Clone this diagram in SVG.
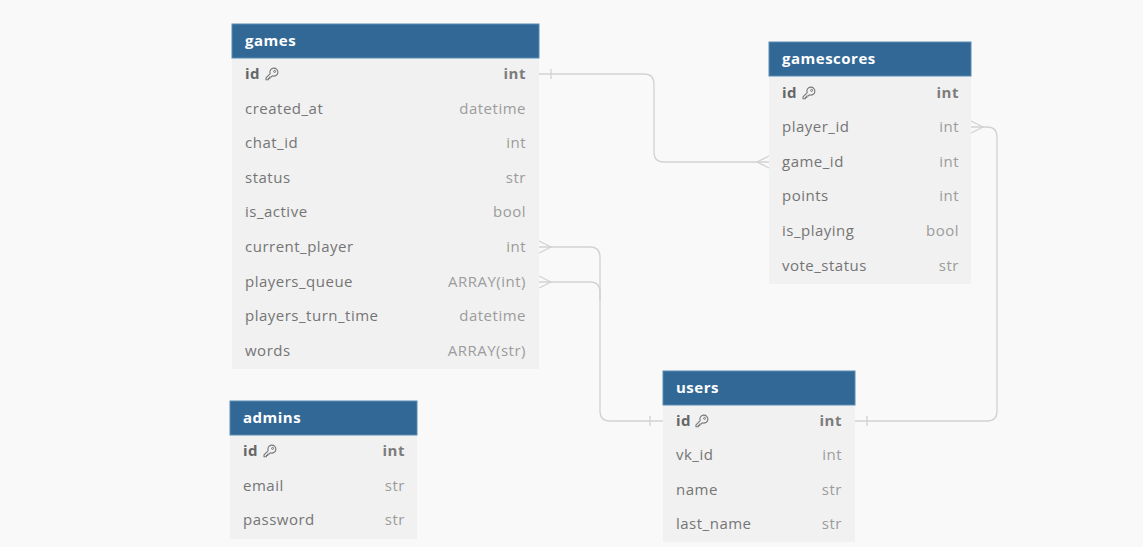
<svg xmlns="http://www.w3.org/2000/svg" width="1143" height="547" viewBox="0 0 1143 547">
<defs>
<style>
.bg{fill:#f9f9f9}
.body{fill:#f1f1f1}
.head{fill:#316896;stroke:#5a8bb3;stroke-width:1}
.title{font-family:"Open Sans","Noto Sans",sans-serif;font-size:15px;letter-spacing:0.5px;font-weight:700;fill:#ffffff}
.n{font-family:"Open Sans","Noto Sans",sans-serif;font-size:15px;letter-spacing:0.5px;fill:#757575}
.t{font-family:"Open Sans","Noto Sans",sans-serif;font-size:15px;letter-spacing:0.5px;fill:#9c9c9c;text-anchor:end}
.pk{font-weight:700;fill:#666666}
.pkt{font-weight:700;fill:#7c7c7c}
.conn{fill:none;stroke:#d2d2d2;stroke-width:1.3}
</style>
<symbol id="keyicon" viewBox="0 0 14 14">
<path d="M5.2 6.6 A4 4 0 1 1 7.4 8.8 L6.2 10 L4.8 10 L4.8 11.4 L3.4 11.4 L3.4 12.8 L1 12.8 L1 10.8 Z" fill="none" stroke="#777" stroke-width="1.1" stroke-linejoin="round"/>
<circle cx="9.6" cy="4.4" r="1" fill="none" stroke="#777" stroke-width="1"/>
</symbol>
</defs>
<rect class="bg" x="0" y="0" width="1143" height="547"/>

<g id="connectors">
<!-- games.id -> gamescores.game_id -->
<path class="conn" d="M539 74 H644 Q654 74 654 84 V152 Q654 162 664 162 H769"/>
<line class="conn" x1="551" y1="69" x2="551" y2="79"/>
<path class="conn" d="M769 156 L757 162 L769 168"/>
<!-- games.current_player -> users.id -->
<path class="conn" d="M539 247 H590 Q600 247 600 257 V411 Q600 421 610 421 H663"/>
<path class="conn" d="M539 241 L551 247 L539 253"/>
<!-- games.players_queue -> users.id -->
<path class="conn" d="M539 282 H590 Q600 282 600 292 V300"/>
<path class="conn" d="M539 276 L551 282 L539 288"/>
<line class="conn" x1="650" y1="416" x2="650" y2="426"/>
<!-- gamescores.player_id -> users.id -->
<path class="conn" d="M971 127 H987 Q997 127 997 137 V411 Q997 421 987 421 H855"/>
<path class="conn" d="M971 121 L983 127 L971 133"/>
<line class="conn" x1="867" y1="416" x2="867" y2="426"/>
</g>

<g id="games">
<rect class="body" x="232" y="58" width="307" height="311"/>
<rect class="head" x="232" y="24" width="307" height="34"/>
<text class="title" x="245" y="46">games</text>
<text class="n pk" x="245" y="79">id</text>
<use href="#keyicon" x="265" y="67" width="14" height="14"/>
<text class="t pkt" x="526" y="79">int</text>
<text class="n" x="245" y="114">created_at</text><text class="t" x="526" y="114">datetime</text>
<text class="n" x="245" y="148">chat_id</text><text class="t" x="526" y="148">int</text>
<text class="n" x="245" y="183">status</text><text class="t" x="526" y="183">str</text>
<text class="n" x="245" y="217">is_active</text><text class="t" x="526" y="217">bool</text>
<text class="n" x="245" y="252">current_player</text><text class="t" x="526" y="252">int</text>
<text class="n" x="245" y="287">players_queue</text><text class="t" x="526" y="287">ARRAY(int)</text>
<text class="n" x="245" y="321">players_turn_time</text><text class="t" x="526" y="321">datetime</text>
<text class="n" x="245" y="356">words</text><text class="t" x="526" y="356">ARRAY(str)</text>
</g>

<g id="gamescores">
<rect class="body" x="769" y="76" width="202" height="208"/>
<rect class="head" x="769" y="42" width="202" height="34"/>
<text class="title" x="782" y="64">gamescores</text>
<text class="n pk" x="782" y="98">id</text>
<use href="#keyicon" x="802" y="86" width="14" height="14"/>
<text class="t pkt" x="959" y="98">int</text>
<text class="n" x="782" y="132">player_id</text><text class="t" x="959" y="132">int</text>
<text class="n" x="782" y="167">game_id</text><text class="t" x="959" y="167">int</text>
<text class="n" x="782" y="201">points</text><text class="t" x="959" y="201">int</text>
<text class="n" x="782" y="236">is_playing</text><text class="t" x="959" y="236">bool</text>
<text class="n" x="782" y="271">vote_status</text><text class="t" x="959" y="271">str</text>
</g>

<g id="users">
<rect class="body" x="663" y="405" width="192" height="137"/>
<rect class="head" x="663" y="371" width="192" height="34"/>
<text class="title" x="676" y="393">users</text>
<text class="n pk" x="676" y="426">id</text>
<use href="#keyicon" x="695" y="414" width="14" height="14"/>
<text class="t pkt" x="842" y="426">int</text>
<text class="n" x="676" y="460">vk_id</text><text class="t" x="842" y="460">int</text>
<text class="n" x="676" y="495">name</text><text class="t" x="842" y="495">str</text>
<text class="n" x="676" y="529">last_name</text><text class="t" x="842" y="529">str</text>
</g>

<g id="admins">
<rect class="body" x="230" y="435" width="187" height="104"/>
<rect class="head" x="230" y="401" width="187" height="34"/>
<text class="title" x="243" y="423">admins</text>
<text class="n pk" x="243" y="456">id</text>
<use href="#keyicon" x="263" y="444" width="14" height="14"/>
<text class="t pkt" x="405" y="456">int</text>
<text class="n" x="243" y="491">email</text><text class="t" x="405" y="491">str</text>
<text class="n" x="243" y="525">password</text><text class="t" x="405" y="525">str</text>
</g>
</svg>
